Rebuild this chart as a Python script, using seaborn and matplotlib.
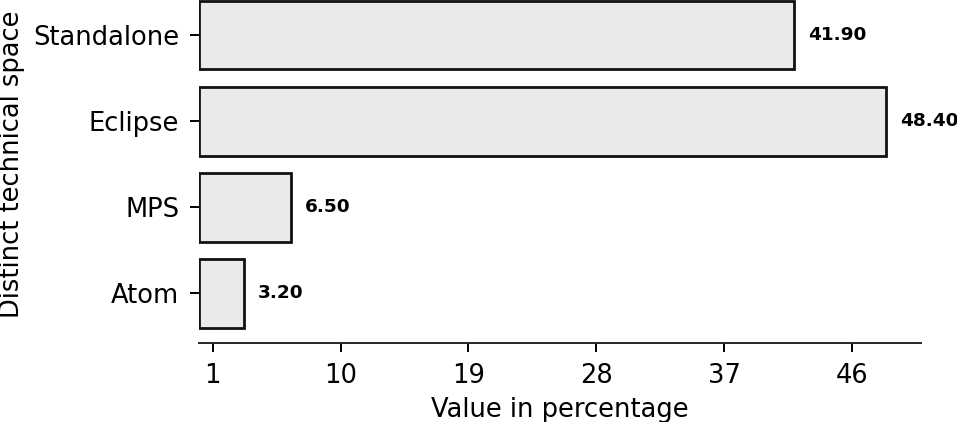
import matplotlib
matplotlib.use("Agg")
import matplotlib.pyplot as plt
import seaborn as sns
import pandas as pd

categories = ["Standalone", "Eclipse", "MPS", "Atom"]
values = [41.90, 48.40, 6.50, 3.20]
xticks = [1, 10, 19, 28, 37, 46]
xlabel = "Value in percentage"
ylabel = "Distinct technical space"

sns.set_style("ticks")
plt.rcParams["font.family"] = ["DejaVu Sans"]

df = pd.DataFrame({"category": categories, "value": values})

fig = plt.figure(figsize=(9.57, 4.22), dpi=100)
ax = fig.add_axes([198.5 / 957, 85.7 / 422, (920.6 - 198.5) / 957, 344.3 / 422])

sns.barplot(data=df, x="value", y="category", orient="h", color="#EAEAEA",
            saturation=1, edgecolor="#111111", linewidth=2.0, width=0.8, ax=ax)

for c in ax.containers:
    ax.bar_label(c, fmt="%.2f", padding=10, fontsize=13.3, fontweight="bold", color="black")

ax.set_xticks(xticks)
ax.set_xlim(0, max(values) * 1.05)
ax.set_xlabel(xlabel, fontsize=18.5, color="black", labelpad=6)
ax.set_ylabel(ylabel, fontsize=18.5, color="black", labelpad=6)
ax.tick_params(axis="both", labelsize=18.5, length=6.5, width=1.4, pad=7.5, colors="black")
sns.despine(ax=ax, left=True, offset=dict(bottom=5))
ax.spines["bottom"].set_linewidth(1.4)

fig.savefig("out.png", dpi=100)
